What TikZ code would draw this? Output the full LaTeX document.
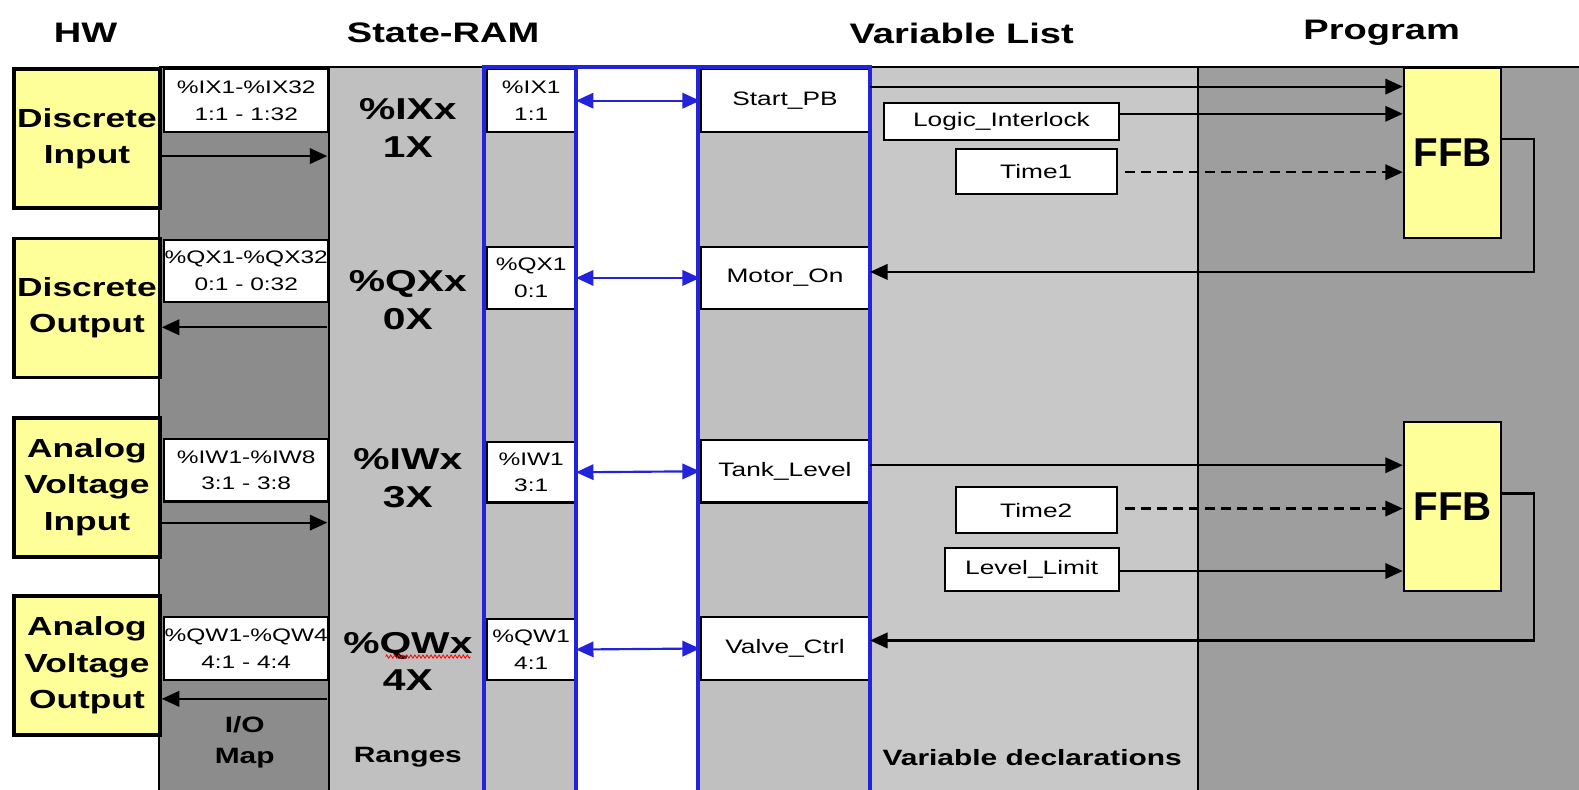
\documentclass[tikz,border=0pt]{standalone}
\usepackage{fontspec}
\setmainfont{Liberation Sans}
\newfontfamily\wide[FakeStretch=1.35]{Liberation Sans}
\usetikzlibrary{arrows.meta,decorations.pathmorphing}
\definecolor{iogray}{RGB}{140,140,140}
\definecolor{rangegray}{RGB}{192,192,192}
\definecolor{vargray}{RGB}{200,200,200}
\definecolor{proggray}{RGB}{158,158,158}
\definecolor{hwyellow}{RGB}{255,255,153}
\definecolor{ramblue}{RGB}{35,35,220}
\begin{document}
\begin{tikzpicture}[x=0.75pt,y=-0.75pt,
  title/.style={font=\wide\bfseries\fontsize{21}{25}\selectfont, inner sep=0pt},
  hwbox/.style={draw=black, line width=2.75pt, fill=hwyellow, anchor=north west, inner sep=0pt,
    minimum width=145*0.75pt, minimum height=138*0.75pt, align=center,
    font=\wide\bfseries\fontsize{19.5}{27}\selectfont},
  wbox/.style={draw=black, line width=1.5pt, fill=white, anchor=north west, inner sep=0pt, align=center,
    font=\wide\fontsize{14.5}{20}\selectfont},
  iobox/.style={wbox, minimum width=163*0.75pt, minimum height=62*0.75pt, font=\wide\fontsize{13.5}{20}\selectfont},
  sbox/.style={wbox, minimum width=87*0.75pt, minimum height=62*0.75pt, font=\wide\fontsize{13.5}{20}\selectfont},
  vbox/.style={wbox, minimum width=167*0.75pt, minimum height=62*0.75pt},
  rtext/.style={font=\wide\bfseries\fontsize{22.5}{28}\selectfont, align=center, inner sep=0pt},
  ltext/.style={font=\wide\bfseries\fontsize{16.5}{22.5}\selectfont, align=center, inner sep=0pt},
  ffb/.style={draw=black, line width=1.5pt, fill=hwyellow, anchor=north west, inner sep=0pt,
    minimum width=97*0.75pt, minimum height=168*0.75pt, font=\bfseries\fontsize{30}{36}\selectfont},
  arr/.style={draw=black, line width=1.6pt, ->, >={Triangle[length=13pt,width=11.5pt]}},
  darr/.style={arr, dash pattern=on 7.5pt off 4.5pt},
  barr/.style={draw=ramblue, line width=1.6pt, <->, >={Triangle[length=13pt,width=11.5pt]}},
  colline/.style={draw=black, line width=1.5pt},
  blueline/.style={draw=ramblue, line width=3pt}
]
\useasboundingbox (0,0) rectangle (1568,784);
\fill[white] (0,0) rectangle (1568,784);
% column backgrounds
\fill[iogray] (158,67) rectangle (327,790);
\fill[rangegray] (327,67) rectangle (481,790);
\fill[rangegray] (481,67) rectangle (572,790);
\fill[white] (572,67) rectangle (693,790);
\fill[rangegray] (693,67) rectangle (864,790);
\fill[vargray] (864,67) rectangle (1190,790);
\fill[proggray] (1190,67) rectangle (1568,790);
% column lines
\draw[colline] (158,67) -- (1568,67);
\draw[colline] (158,67) -- (158,790);
\draw[colline] (327,67) -- (327,790);
\draw[colline] (1190,67) -- (1190,790);
% titles
\node[title] (tHW) at (85,33) {HW};
\node[title] (tRAM) at (440,33) {State-RAM};
\node[title] (tVar) at (955,33) {Variable List};
\node[title] (tProg) at (1372,33) {Program};
% HW boxes
\node[hwbox] (di) at (12,67) {Discrete\\Input};
\node[hwbox] (do) at (12,235) {Discrete\\Output};
\node[hwbox] (ai) at (12,413) {Analog\\Voltage\\Input};
\node[hwbox] (ao) at (12,590) {Analog\\Voltage\\Output};
% I/O map boxes
\node[iobox] (mIX) at (162,68) {\%IX1-\%IX32\\1:1 - 1:32};
\node[iobox] (mQX) at (162,237) {\%QX1-\%QX32\\0:1 - 0:32};
\node[iobox] (mIW) at (162,435) {\%IW1-\%IW8\\3:1 - 3:8};
\node[iobox] (mQW) at (162,612) {\%QW1-\%QW4\\4:1 - 4:4};
% I/O arrows
\coordinate (a1) at (325,155);
\coordinate (a2) at (325,325);
\coordinate (a3) at (325,519);
\coordinate (a4) at (325,694);
\draw[arr] (a1 -| di.east) -- (a1);
\draw[arr] (a2) -- (a2 -| do.east);
\draw[arr] (a3 -| ai.east) -- (a3);
\draw[arr] (a4) -- (a4 -| ao.east);
% ranges
\node[rtext] (rIX) at (405,127) {\%IXx\\1X};
\node[rtext] (rQX) at (405,298) {\%QXx\\0X};
\node[rtext] (rIW) at (405,475) {\%IWx\\3X};
\node[rtext] (rQW) at (405,657) {\%QWx\\4X};
\draw[red, line width=0.6pt, decorate, decoration={zigzag, amplitude=1.2pt, segment length=3pt}] (383,652) -- (467,652);
% bottom labels
\node[ltext] (lIO) at (243,737) {I/O\\Map};
\node[ltext] (lRange) at (405,752) {Ranges};
\node[font=\wide\bfseries\fontsize{16.5}{20}\selectfont, inner sep=0pt] (lVar) at (1025,752) {Variable declarations};
% state-RAM boxes
\node[sbox] (sIX) at (483,68) {\%IX1\\1:1};
\node[sbox] (sQX) at (483,244) {\%QX1\\0:1};
\node[sbox, minimum height=60*0.75pt] (sIW) at (483,438) {\%IW1\\3:1};
\node[sbox, minimum height=60*0.75pt] (sQW) at (483,614) {\%QW1\\4:1};
\node[vbox] (vStart) at (695,68) {Start\_PB};
\node[vbox] (vMotor) at (695,244) {Motor\_On};
\node[vbox] (vTank) at (695,436) {Tank\_Level};
\node[vbox] (vValve) at (695,612) {Valve\_Ctrl};
% blue frame
\draw[blueline] (481,790) -- (481,67) -- (864,67) -- (864,790);
\draw[blueline] (572,67) -- (572,790);
\draw[blueline] (693,67) -- (693,790);
% blue arrows
\draw[barr] (sIX.east) -- (vStart.west);
\draw[barr] (sQX.east) -- (vMotor.west);
\draw[barr] (sIW.east) -- (vTank.west);
\draw[barr] (sQW.east) -- (vValve.west);
% variable declaration boxes
\node[wbox, minimum width=233*0.75pt, minimum height=37*0.75pt] (vLI) at (877,101) {Logic\_Interlock};
\node[wbox, minimum width=160*0.75pt, minimum height=45*0.75pt] (vT1) at (948,147) {Time1};
\node[wbox, minimum width=160*0.75pt, minimum height=45*0.75pt] (vT2) at (948,483) {Time2};
\node[wbox, minimum width=173*0.75pt, minimum height=43*0.75pt] (vLL) at (937,543) {Level\_Limit};
% FFB blocks
\node[ffb] (f1) at (1393,67) {FFB};
\node[ffb] (f2) at (1393,418) {FFB};
% pin heights
\coordinate (y86) at (0,86);
\coordinate (y113) at (0,113);
\coordinate (y171) at (0,171);
\coordinate (y138) at (0,138);
\coordinate (y462) at (0,462);
\coordinate (y505) at (0,505);
\coordinate (y567) at (0,567);
\coordinate (y490) at (0,490);
\coordinate (r1) at (1523,270);
\coordinate (r2) at (1523,636);
% connectors to/from FFB
\draw[arr] (vStart.east |- y86) -- (f1.west |- y86);
\draw[arr] (vLI.east |- y113) -- (f1.west |- y113);
\draw[darr, shorten <=5pt] (vT1.east |- y171) -- (f1.west |- y171);
\draw[arr] (f1.east |- y138) -| (r1) -- (vMotor.east |- r1);
\draw[arr] (vTank.east |- y462) -- (f2.west |- y462);
\draw[darr, shorten <=5pt] (vT2.east |- y505) -- (f2.west |- y505);
\draw[arr] (vLL.east |- y567) -- (f2.west |- y567);
\draw[arr] (f2.east |- y490) -| (r2) -- (vValve.east |- r2);
\end{tikzpicture}
\end{document}
